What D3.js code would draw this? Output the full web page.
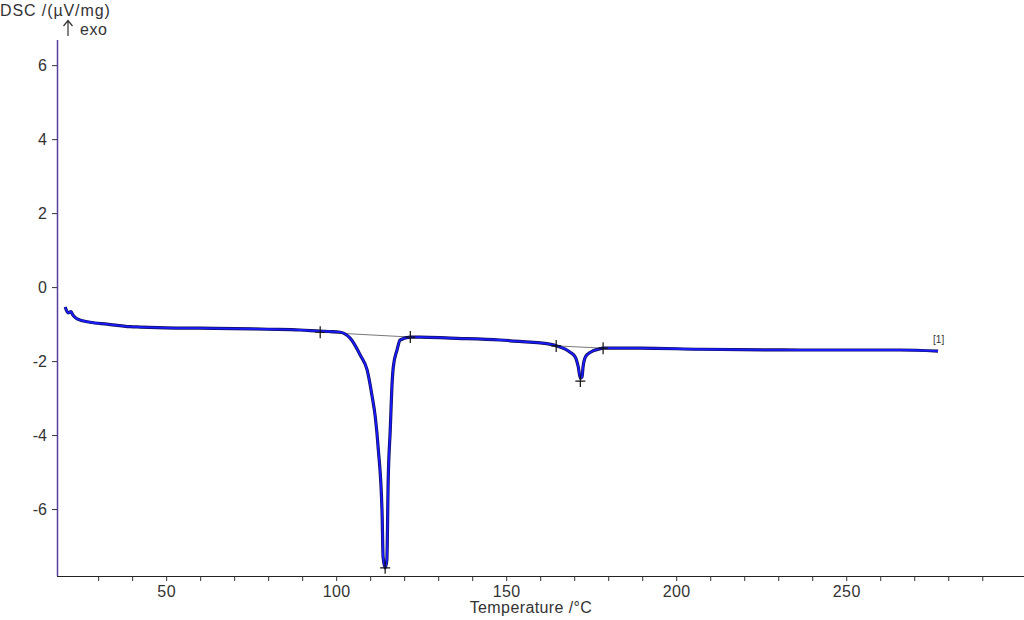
<!DOCTYPE html>
<html><head><meta charset="utf-8">
<script src="https://cdn.jsdelivr.net/npm/d3@7"></script>
<style>body{margin:0;background:#fff;}svg{display:block;font-family:"Liberation Sans",Arial,sans-serif;}</style>
</head><body><svg id="c" width="1024" height="620"></svg>
<script>
// DSC curve: temperature (°C) and signal (µV/mg)
const temps = [20.3,21.2,22.0,22.6,23.8,27.6,32.6,39.4,42.4,50,60,70,80,89.4,95.3,98,101.2,104.1,107.1,109.1,110.6,111.5,112.4,113.5,113.8,114.4,114.9,115.3,115.9,116.5,116.8,117.9,118.8,121.8,124.7,133.5,148.2,157,160,164.9,168.8,170.3,171.2,171.8,172.3,172.6,173.3,174.8,177.1,178.6,189.4,207,236.5,265.9,277];
const dsc   = [-0.54,-0.70,-0.66,-0.76,-0.86,-0.95,-1.00,-1.07,-1.08,-1.10,-1.11,-1.12,-1.14,-1.16,-1.19,-1.20,-1.22,-1.38,-1.84,-2.24,-2.97,-3.51,-4.40,-6.11,-7.30,-7.59,-7.38,-5.22,-3.86,-2.51,-2.16,-1.70,-1.43,-1.35,-1.35,-1.38,-1.43,-1.49,-1.51,-1.59,-1.76,-1.89,-2.16,-2.46,-2.43,-2.16,-1.89,-1.76,-1.68,-1.65,-1.65,-1.68,-1.70,-1.70,-1.73];
// evaluation markers (+)
const markT = [95.3,121.8,114.4,164.7,178.5,171.8];
const markV = [-1.22,-1.35,-7.59,-1.59,-1.65,-2.54];
// baselines: pairs of marker indices
const baseFrom = [0,3];
const baseTo = [1,4];
const xTicks = [30,40,50,60,70,80,90,100,110,120,130,140,150,160,170,180,190,200,210,220,230,240,250,260,270,280,290];
const xLabels = [50,100,150,200,250];
const yTicks = [-6,-4,-2,0,2,4,6];

const FONT = "'Liberation Sans',Arial,sans-serif";
const svg = d3.select("#c");
const x = d3.scaleLinear().domain([17.9, 301.1]).range([57, 1020]);
const y = d3.scaleLinear().domain([-7.81, 6.68]).range([576, 40]);

// x axis
const xa = svg.append("g").attr("transform","translate(0,576)")
  .call(d3.axisBottom(x).tickValues(xTicks).tickSize(5).tickFormat(d => xLabels.includes(d) ? d : ""));
xa.select(".domain").attr("stroke","#222").attr("d","M57,0.5H1024");
xa.selectAll(".tick line").attr("stroke","#333");
xa.selectAll(".tick text").attr("font-size",16).attr("fill","#333").attr("dy","0.8em")
  .attr("font-family",FONT).attr("letter-spacing",0.4);

// y axis
const ya = svg.append("g").attr("transform","translate(57,0)")
  .call(d3.axisLeft(y).tickValues(yTicks).tickSize(5).tickFormat(d => d));
ya.select(".domain").attr("stroke","#5a3fa0").attr("stroke-width",1.5).attr("d","M0.5,40V576");
ya.selectAll(".tick line").attr("stroke","#333");
ya.selectAll(".tick text").attr("font-size",16).attr("fill","#333").attr("x",-10)
  .attr("font-family",FONT);

// labels
svg.append("text").attr("x",0).attr("y",16).attr("font-size",16).attr("letter-spacing",0.9).attr("fill","#333").text("DSC /(µV/mg)");
svg.append("path").attr("d","M68,36V21M63.5,26L68,20.5L72.5,26").attr("fill","none").attr("stroke","#333").attr("stroke-width",1.2);
svg.append("text").attr("x",80).attr("y",35).attr("font-size",16).attr("letter-spacing",0.6).attr("fill","#333").text("exo");
svg.append("text").attr("x",531).attr("y",613).attr("text-anchor","middle").attr("font-size",16).attr("letter-spacing",0.4).attr("fill","#333").text("Temperature /°C");

// baselines
baseFrom.forEach((a,i) => {
  const b = baseTo[i];
  svg.append("line").attr("x1",x(markT[a])).attr("y1",y(markV[a])).attr("x2",x(markT[b])).attr("y2",y(markV[b]))
    .attr("stroke","#777").attr("stroke-width",1);
});

// curve
const pts = temps.map((t,i)=>[t,dsc[i]]);
const line = d3.line().x(d=>x(d[0])).y(d=>y(d[1])).curve(d3.curveMonotoneX);
svg.append("path").datum(pts).attr("d",line).attr("fill","none").attr("stroke","#10105a").attr("stroke-width",3.2).attr("stroke-linejoin","round");
svg.append("path").datum(pts).attr("d",line).attr("fill","none").attr("stroke","#1a1aff").attr("stroke-width",1.8).attr("stroke-linejoin","round");

// markers
markT.forEach((t,i) => {
  const cx = x(t), cy = y(markV[i]);
  svg.append("path").attr("d",`M${cx-5},${cy}H${cx+5}M${cx},${cy-6}V${cy+6}`).attr("stroke","#111").attr("stroke-width",1.2);
});

// curve label
svg.append("text").attr("x",x(temps[temps.length-1])-5).attr("y",y(dsc[dsc.length-1])-8).attr("font-size",10).attr("fill","#333").text("[1]");
</script></body></html>
